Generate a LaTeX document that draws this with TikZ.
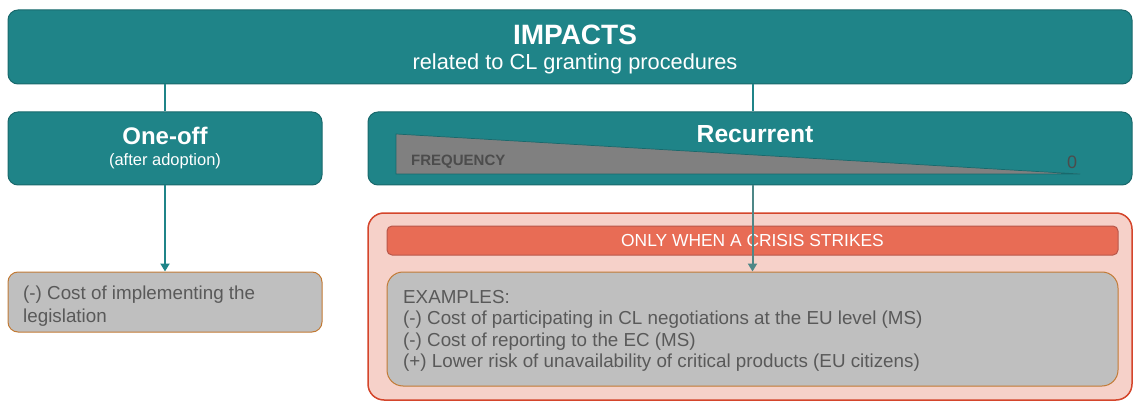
\documentclass[tikz,border=0pt]{standalone}
\usepackage{fontspec}
\setmainfont{Liberation Sans}
\usepackage{tikz,xcolor}
\usetikzlibrary{arrows.meta, calc}

\definecolor{tealfill}{HTML}{1F8488}
\definecolor{tealline}{HTML}{19696C}
\definecolor{greyfill}{HTML}{BFBFBF}
\definecolor{greyline}{HTML}{C27A35}
\definecolor{greytext}{HTML}{595959}
\definecolor{pinkfill}{HTML}{F6D1C9}
\definecolor{pinkline}{HTML}{D4452B}
\definecolor{bandfill}{HTML}{E86C55}
\definecolor{bandline}{HTML}{B8574A}
\definecolor{arrowgrey}{HTML}{4E8787}

\tikzset{
	tealbox/.style={draw=tealline, fill=tealfill, rounded corners=10pt, line width=1pt, inner sep=0pt},
	greybox/.style={draw=greyline, fill=greyfill, rounded corners=10pt, line width=1pt, inner sep=0pt},
	linktext/.style={text=white, inner sep=0pt},
	itemtext/.style={text=greytext, inner sep=0pt, align=left, anchor=north west},
}

\begin{document}
\begin{tikzpicture}[x=1pt, y=-1pt]

	\useasboundingbox (0,0) rectangle (1133,401);

	% top box
	\node[tealbox, minimum width=1124, minimum height=74] (impacts) at (570,47) {};
	\node[linktext, font=\fontsize{28}{30}\selectfont\bfseries] (impactstitle) at (575,35) {IMPACTS};
	\node[linktext, font=\fontsize{21.8}{24}\selectfont] (impactssub) at (575,64) {related to CL granting procedures};

	% one-off branch
	\node[tealbox, minimum width=314, minimum height=73] (oneoff) at (165,148.5) {};
	\node[linktext, font=\fontsize{24}{26}\selectfont\bfseries] (oneofftitle) at (165,136) {One-off};
	\node[linktext, font=\fontsize{16.5}{18}\selectfont] (oneoffsub) at (165,161) {(after adoption)};

	\node[greybox, minimum width=314, minimum height=60] (implement) at (165,302) {};
	\node[itemtext, font=\fontsize{18.8}{23}\selectfont] (implementtext) at (23,286)
		{(-) Cost of implementing the\\legislation};

	% recurrent branch
	\node[tealbox, minimum width=764, minimum height=73] (recurrent) at (750,148.5) {};
	\node[linktext, font=\fontsize{24.7}{26}\selectfont\bfseries] (recurrenttitle) at (755,134) {Recurrent};
	\draw[tealline, fill=gray, line width=0.7pt]
		(396,134) -- (1080,174) -- (396,174) -- cycle;
	\node[text=black!70, inner sep=0pt, anchor=west, font=\fontsize{15}{17}\selectfont\bfseries] (freq) at (411,162) {FREQUENCY};
	\node[text=black!70, inner sep=0pt, font=\fontsize{18}{20}\selectfont] (zero) at (1072,162) {0};

	% crisis area
	\node[draw=pinkline, fill=pinkfill, rounded corners=16pt, line width=1.5pt, inner sep=0pt,
		minimum width=764, minimum height=187] (crisis) at (750,306.5) {};
	\node[draw=bandline, fill=bandfill, rounded corners=5pt, line width=1pt, inner sep=0pt,
		minimum width=731, minimum height=29, text=white, font=\fontsize{17.4}{19}\selectfont] (strikes) at (752.5,240.5)
		{ONLY WHEN A CRISIS STRIKES};
	\node[greybox, rounded corners=16pt, minimum width=731, minimum height=114] (examples) at (752.5,329) {};
	\node[itemtext, font=\fontsize{18.8}{21.5}\selectfont] (examplestext) at (403,290)
		{EXAMPLES:\\
		(-) Cost of participating in CL negotiations at the EU level (MS)\\
		(-) Cost of reporting to the EC (MS)\\
		(+) Lower risk of unavailability of critical products (EU citizens)};

	% connectors
	\draw[tealfill, line width=2pt] (impacts.south -| oneoff.north) -- (oneoff.north);
	\draw[tealfill, line width=2pt] (impacts.south -| examples.north) -- (recurrent.north -| examples.north);
	\draw[tealfill, line width=2pt, -{Triangle[length=8pt, width=9pt]}] (oneoff.south) -- (implement.north);
	\draw[arrowgrey, line width=2pt, -{Triangle[length=8pt, width=9pt]}] (recurrent.south -| examples.north) -- (examples.north);

\end{tikzpicture}
\end{document}
